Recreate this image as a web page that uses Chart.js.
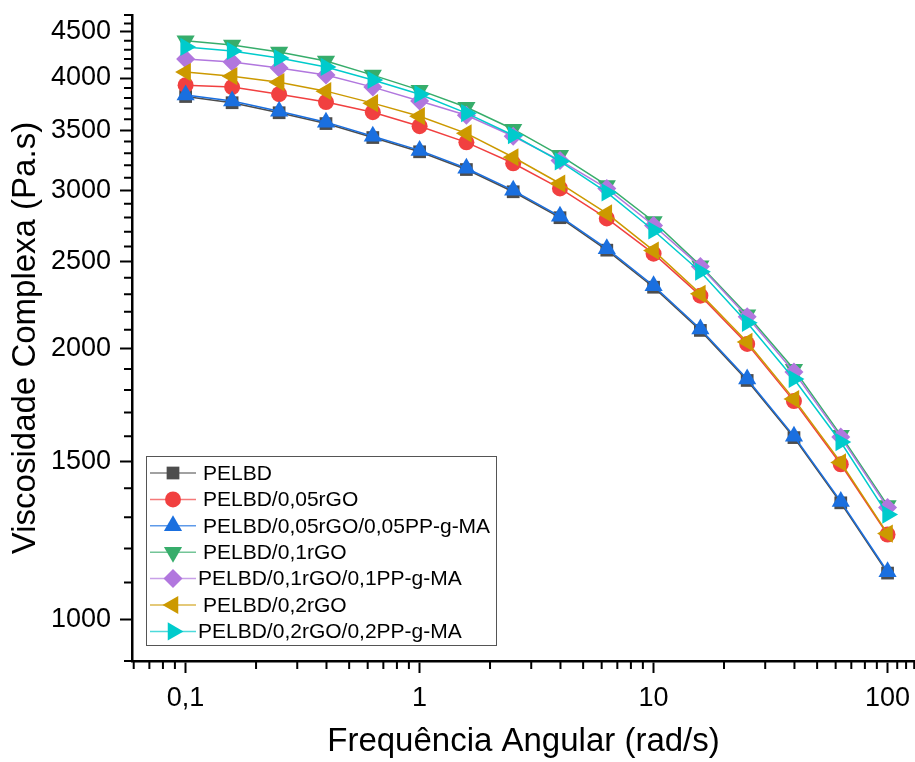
<!DOCTYPE html>
<html lang="pt">
<head>
    <meta charset="UTF-8">
    <title>Viscosidade Complexa</title>
    <script src="https://cdn.jsdelivr.net/npm/chart.js"></script>
    <style>
        body { margin: 0; background: #fff; }
        #wrap { width: 915px; height: 762px; position: relative; }
    </style>
</head>
<body>
    <div id="wrap"><canvas id="grafico"></canvas></div>
    <script>
        // Dados
        const freq = [0.1, 0.158, 0.251, 0.398, 0.631, 1, 1.585, 2.512, 3.981, 6.31, 10, 15.85, 25.12, 39.81, 63.1, 100];
        const pelbd = [3815, 3755, 3660, 3560, 3435, 3312, 3165, 2990, 2798, 2575, 2342, 2097, 1845, 1594, 1349, 1127];
        const pelbd005 = [3928, 3908, 3838, 3761, 3665, 3536, 3393, 3216, 3016, 2793, 2552, 2292, 2026, 1750, 1489, 1244];
        const pelbd005pp = [3830, 3771, 3674, 3573, 3446, 3324, 3175, 3001, 2808, 2585, 2351, 2105, 1852, 1600, 1354, 1131];
        const pelbd01 = [4399, 4354, 4276, 4178, 4030, 3878, 3712, 3509, 3282, 3039, 2771, 2475, 2183, 1899, 1604, 1340];
        const pelbd01pp = [4200, 4168, 4104, 4030, 3908, 3771, 3637, 3446, 3240, 3016, 2743, 2469, 2171, 1885, 1596, 1333];
        const pelbd02 = [4061, 4019, 3958, 3868, 3751, 3628, 3472, 3266, 3054, 2829, 2572, 2303, 2036, 1759, 1496, 1247];
        const pelbd02pp = [4331, 4287, 4210, 4115, 3980, 3838, 3656, 3455, 3232, 2985, 2708, 2437, 2138, 1852, 1576, 1309];

        const nomes = ['PELBD', 'PELBD/0,05rGO', 'PELBD/0,05rGO/0,05PP-g-MA', 'PELBD/0,1rGO',
                       'PELBD/0,1rGO/0,1PP-g-MA', 'PELBD/0,2rGO', 'PELBD/0,2rGO/0,2PP-g-MA'];

        // Ticks
        const xMajor = [0.1, 1, 10, 100];
        const xMinor = [0.06, 0.07, 0.08, 0.09, 0.2, 0.3, 0.4, 0.5, 0.6, 0.7, 0.8, 0.9,
                        2, 3, 4, 5, 6, 7, 8, 9, 20, 30, 40, 50, 60, 70, 80, 90, 110, 120, 130];
        const yMajor = [1000, 1500, 2000, 2500, 3000, 3500, 4000, 4500];
        const yMinor = [900, 1100, 1200, 1300, 1400, 1600, 1700, 1800, 1900, 2100, 2200, 2300, 2400,
                        2600, 2700, 2800, 2900, 3100, 3200, 3300, 3400, 3600, 3700, 3800, 3900,
                        4100, 4200, 4300, 4400, 4600, 4700];

        const series = [pelbd, pelbd005, pelbd005pp, pelbd01, pelbd01pp, pelbd02, pelbd02pp];
        const cores = ['#4d4d4d', '#f14040', '#1a6fdf', '#37ad6b', '#b177de', '#cc9900', '#00cbcc'];
        const estilos = ['rect', 'circle', 'triangle', 'triangle', 'rectRot', 'triangle', 'triangle'];
        const rotacoes = [0, 0, 0, 180, 0, -90, 90];
        const raios = [9, 8, 10.5, 10.5, 9.5, 10.5, 10.5];

        const FONTE = "'Liberation Sans', Arial, sans-serif";

        const datasets = series.map((s, i) => ({
            label: nomes[i],
            data: freq.map((f, j) => ({ x: f, y: s[j] })),
            borderColor: cores[i],
            backgroundColor: cores[i],
            borderWidth: 1.5,
            pointStyle: estilos[i],
            rotation: rotacoes[i],
            pointRadius: raios[i],
            pointBorderWidth: 0,
            tension: 0,
            clip: false,
            order: -i
        }));

        // Ticks menores e legenda dentro do gráfico
        const extras = {
            id: 'extras',
            afterDraw(chart) {
                const ctx = chart.ctx;
                const area = chart.chartArea;
                const sx = chart.scales.x, sy = chart.scales.y;
                ctx.save();
                ctx.strokeStyle = '#000';
                ctx.lineWidth = 2;
                ctx.beginPath();
                xMinor.forEach(v => {
                    const px = sx.getPixelForValue(v);
                    if (px < area.left || px > area.right) return;
                    ctx.moveTo(px, area.bottom);
                    ctx.lineTo(px, area.bottom + 8);
                });
                yMinor.forEach(v => {
                    const py = sy.getPixelForValue(v);
                    ctx.moveTo(area.left, py);
                    ctx.lineTo(area.left - 8, py);
                });
                ctx.stroke();

                // legenda
                const lx = 146, ly = 456, lw = 350, lh = 189;
                ctx.lineWidth = 1;
                ctx.strokeStyle = '#555';
                ctx.fillStyle = '#fff';
                ctx.fillRect(lx, ly, lw, lh);
                ctx.strokeRect(lx + 0.5, ly + 0.5, lw, lh);
                ctx.font = '21px ' + FONTE;
                ctx.textBaseline = 'middle';
                datasets.forEach((d, i) => {
                    const cy = 473 + i * 26.4;
                    ctx.strokeStyle = d.borderColor;
                    ctx.globalAlpha = 0.7;
                    ctx.lineWidth = 1.5;
                    ctx.beginPath();
                    ctx.moveTo(150, cy);
                    ctx.lineTo(196, cy);
                    ctx.stroke();
                    ctx.globalAlpha = 1;
                    ctx.fillStyle = d.backgroundColor;
                    Chart.helpers.drawPoint(ctx, {
                        pointStyle: d.pointStyle, rotation: d.rotation,
                        radius: d.pointRadius, borderWidth: 0
                    }, 173, cy);
                    ctx.fillStyle = '#000';
                    const tx = (i === 4 || i === 6) ? 198 : 203;
                    ctx.fillText(d.label, tx, cy + 1);
                });
                ctx.restore();
            }
        };

        new Chart(document.getElementById('grafico'), {
            type: 'line',
            data: { datasets: datasets },
            options: {
                responsive: true,
                maintainAspectRatio: false,
                animation: false,
                layout: { autoPadding: false, padding: { top: 15, right: 0, left: 0, bottom: 0 } },
                plugins: { legend: { display: false }, tooltip: { enabled: false } },
                scales: {
                    x: {
                        type: 'logarithmic',
                        min: 0.059,
                        max: 131,
                        afterBuildTicks: (axis) => { axis.ticks = xMajor.map(v => ({ value: v })); },
                        afterFit: (axis) => { axis.height = 101; axis.paddingLeft = 0; axis.paddingRight = 0; },
                        border: { display: true, color: '#000', width: 2.5 },
                        grid: { drawOnChartArea: false, drawTicks: true, tickLength: 12, tickColor: '#000', tickWidth: 2 },
                        ticks: {
                            autoSkip: false,
                            maxRotation: 0,
                            padding: 9,
                            color: '#000',
                            font: { family: FONTE, size: 27 },
                            callback: (v) => String(v).replace('.', ',')
                        },
                        title: {
                            display: true,
                            text: 'Frequência Angular (rad/s)',
                            color: '#000',
                            font: { family: FONTE, size: 33, lineHeight: 1 },
                            padding: { top: 0, bottom: 4 }
                        }
                    },
                    y: {
                        type: 'logarithmic',
                        min: 900,
                        max: 4700,
                        afterBuildTicks: (axis) => { axis.ticks = yMajor.map(v => ({ value: v })); },
                        afterFit: (axis) => { axis.width = 132; axis.paddingTop = 0; axis.paddingBottom = 0; },
                        border: { display: true, color: '#000', width: 2.5 },
                        grid: { drawOnChartArea: false, drawTicks: true, tickLength: 12, tickColor: '#000', tickWidth: 2 },
                        ticks: {
                            autoSkip: false,
                            padding: 9,
                            color: '#000',
                            font: { family: FONTE, size: 27 },
                            callback: (v) => String(v)
                        },
                        title: {
                            display: true,
                            text: 'Viscosidade Complexa (Pa.s)',
                            color: '#000',
                            font: { family: FONTE, size: 33, lineHeight: 1 },
                            padding: { top: 9, bottom: 0 }
                        }
                    }
                }
            },
            plugins: [extras]
        });
    </script>
</body>
</html>
